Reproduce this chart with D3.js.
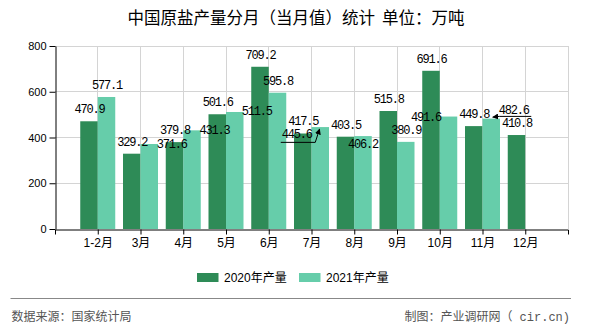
<!DOCTYPE html>
<html><head><meta charset="utf-8">
<script src="https://cdn.jsdelivr.net/npm/d3@7"></script>
<style>
html,body{margin:0;padding:0;background:#fff;}
svg{display:block;}
</style></head>
<body>
<svg id="chart" width="590" height="330"></svg>
<script>
// ---- data ----
const categories = ["1-2月","3月","4月","5月","6月","7月","8月","9月","10月","11月","12月"];
const series2020 = [470.9, 329.2, 379.8, 501.6, 709.2, 417.5, 403.5, 515.8, 691.6, 449.8, 410.8];
const series2021 = [577.1, 371.6, 431.3, 511.5, 595.8, 445.6, 406.2, 380.9, 491.6, 482.6, null];
const seriesNames = ["2020年产量","2021年产量"];
const yTicks = [0, 200, 400, 600, 800];
const titleParts = ["中国原盐产量分月（当月值）统计", "单位：万吨"];
const sourceText = "数据来源：国家统计局";
const creditParts = ["制图：产业调研网（", " cir.cn)"];

// label placement tweaks (series index, category index) -> offset from default
const labelTweaks = {
  "1-1": {dx: 22, dy: 0},
  "1-2": {dx: 22, dy: 0},
  "1-3": {dx: 21.5, dy: -1},
  "1-5": {dx: -24, dy: 7, leader: "under"},
  "1-6": {dx: -0.7, dy: 8},
  "1-8": {dx: -23, dy: 0},
  "1-9": {dx: 22, dy: -9, leader: "side"}
};

const colors = ["#2e8b57", "#66cdaa"];
const svg = d3.select("#chart");
const M = {left: 55, right: 568, top: 46, bottom: 229};

const x = d3.scalePoint().domain(categories).range([M.left, M.right]).padding(1);
const sub = d3.scaleBand().domain([0, 1]).range([-17.5, 17.5]).padding(0);
const y = d3.scaleLinear().domain([0, 800]).range([M.bottom, M.top]);

// title
const title = svg.append("text").attr("x", 296).attr("y", 24).attr("text-anchor", "middle")
  .attr("font-family", "'Noto Sans CJK SC', sans-serif").attr("font-size", 16.5)
  .attr("fill", "#000");
title.append("tspan").text(titleParts[0]);
title.append("tspan").attr("dx", 7).text(titleParts[1]);

// grid
const grid = svg.append("g").attr("stroke", "#d4d4d4").attr("stroke-width", 1).attr("shape-rendering", "crispEdges");
yTicks.filter(t => t > 0).forEach(t => {
  grid.append("line").attr("x1", M.left).attr("x2", M.right).attr("y1", y(t)).attr("y2", y(t));
});
categories.forEach(c => {
  grid.append("line").attr("x1", x(c)).attr("x2", x(c)).attr("y1", M.top).attr("y2", M.bottom);
});
grid.append("line").attr("x1", M.right).attr("x2", M.right).attr("y1", M.top).attr("y2", M.bottom);

// bars
const allSeries = [series2020, series2021];
allSeries.forEach((vals, si) => {
  svg.append("g").selectAll("rect")
    .data(vals.map((v, i) => ({v, c: categories[i]})).filter(d => d.v != null))
    .join("rect")
    .attr("x", d => x(d.c) + sub(si))
    .attr("width", sub.bandwidth())
    .attr("y", d => y(d.v))
    .attr("height", d => y(0) - y(d.v))
    .attr("fill", colors[si]);
});

// axes
const xAxis = svg.append("g").attr("transform", `translate(0,${M.bottom + 0.5})`)
  .call(d3.axisBottom(x).tickSize(5).tickSizeOuter(5));
xAxis.select(".domain").attr("stroke", "#000");
xAxis.selectAll(".tick line").attr("stroke", "#000");
xAxis.selectAll(".tick text").attr("font-family", "'Liberation Sans', 'Noto Sans CJK SC', sans-serif")
  .attr("font-size", 12).attr("fill", "#000").attr("dy", "0.8em");

const yAxis = svg.append("g").attr("transform", `translate(${M.left + 0.5},0)`)
  .call(d3.axisLeft(y).tickValues(yTicks).tickSize(6).tickSizeOuter(0).tickPadding(3));
yAxis.select(".domain").attr("stroke", "#000");
yAxis.selectAll(".tick line").attr("stroke", "#000");
yAxis.selectAll(".tick text").attr("font-family", "'Liberation Sans', sans-serif")
  .attr("font-size", 11).attr("fill", "#000");

// arrow marker
svg.append("defs").append("marker").attr("id", "arr")
  .attr("viewBox", "0 0 10 10").attr("refX", 9).attr("refY", 5)
  .attr("markerWidth", 6).attr("markerHeight", 6).attr("orient", "auto")
  .append("path").attr("d", "M0,0 L10,5 L0,10 z").attr("fill", "#000");

// data labels
const labels = svg.append("g").attr("font-family", "'Liberation Mono', monospace")
  .attr("font-size", 12).attr("fill", "#000");
allSeries.forEach((vals, si) => {
  vals.forEach((v, i) => {
    if (v == null) return;
    const c = categories[i];
    const bx = x(c) + sub(si) + sub.bandwidth() / 2;
    const by = y(v);
    const tw = labelTweaks[si + "-" + i] || {dx: 0, dy: -12};
    const cx = bx + tw.dx, cy = by + tw.dy;
    labels.append("text").attr("x", cx + 0.6).attr("y", cy + 4)
      .attr("text-anchor", "middle").attr("letter-spacing", "-1.2px")
      .text(v.toFixed(1));
    if (tw.leader === "under") {
      const p = d3.path();
      p.moveTo(cx - 15.5, cy + 8.3);
      p.lineTo(cx + 19, cy + 8.3);
      p.lineTo(bx - 0.7, by + 2);
      svg.append("path").attr("d", p.toString()).attr("fill", "none")
        .attr("stroke", "#000").attr("stroke-width", 1).attr("marker-end", "url(#arr)");
    } else if (tw.leader === "side") {
      const p = d3.path();
      p.moveTo(cx + 18, cy + 6.8);
      p.lineTo(cx - 14, cy + 6.8);
      p.lineTo(bx + 1.5, by - 1.5);
      svg.append("path").attr("d", p.toString()).attr("fill", "none")
        .attr("stroke", "#000").attr("stroke-width", 1).attr("marker-end", "url(#arr)");
    }
  });
});

// legend
const legendX = [197, 299];
seriesNames.forEach((n, si) => {
  svg.append("rect").attr("x", legendX[si]).attr("y", 273).attr("width", 21.5).attr("height", 9)
    .attr("fill", colors[si]);
  svg.append("text").attr("x", legendX[si] + 27).attr("y", 282)
    .attr("font-family", "'Liberation Sans', 'Noto Sans CJK SC', sans-serif").attr("font-size", 12)
    .attr("fill", "#000").text(n);
});

// footer
svg.append("line").attr("x1", 10.5).attr("x2", 571).attr("y1", 298.5).attr("y2", 298.5)
  .attr("stroke", "#888").attr("stroke-width", 1);
svg.append("text").attr("x", 11.5).attr("y", 320.5)
  .attr("font-family", "'Noto Sans CJK SC', sans-serif").attr("font-size", 12)
  .attr("fill", "#555").text(sourceText);
const credit = svg.append("text").attr("x", 570).attr("y", 320.5).attr("text-anchor", "end")
  .attr("font-family", "'Noto Sans CJK SC', sans-serif").attr("font-size", 12)
  .attr("fill", "#555").attr("xml:space", "preserve");
credit.append("tspan").text(creditParts[0]);
credit.append("tspan").attr("font-family", "'Liberation Mono', monospace").text(creditParts[1]);
</script>
</body></html>
